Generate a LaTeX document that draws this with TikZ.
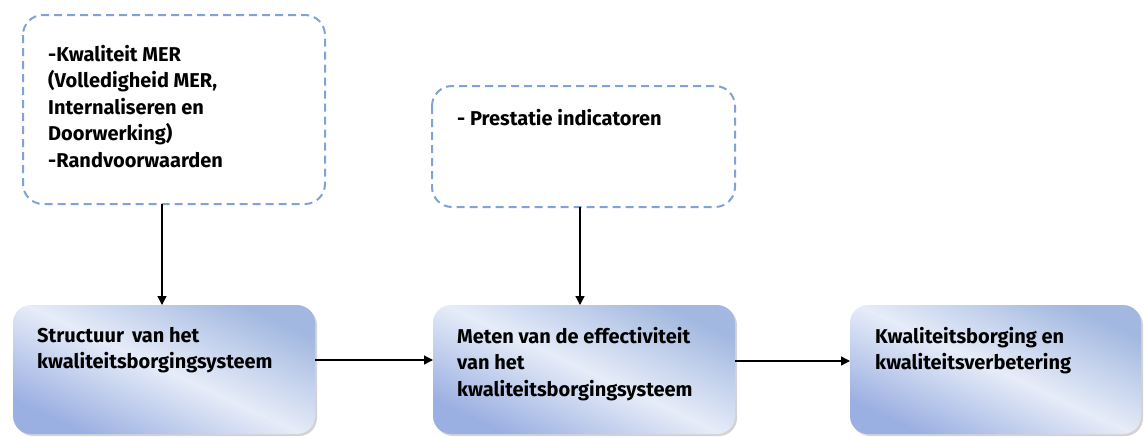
\documentclass[tikz,border=0pt]{standalone}
\usepackage{fontspec}
\setmainfont{Fira Sans}
\usetikzlibrary{arrows.meta,shadows}
\definecolor{dashblue}{HTML}{7FA3D6}
\definecolor{edgeblue}{HTML}{A2B8E0}
\definecolor{midblue}{HTML}{E6ECF8}
\tikzset{
  dashbox/.style={draw=dashblue, line width=2pt, dash pattern=on 8pt off 5pt, rounded corners=20pt},
  solidbox/.style={rounded corners=18pt, top color=edgeblue, bottom color=edgeblue!95!blue, middle color=midblue, shading angle=-25,
     drop shadow={shadow xshift=2pt, shadow yshift=-2pt, opacity=0.35, fill=gray}},
  txt/.style={anchor=north west, align=left, font=\fontsize{20}{26.5}\selectfont\bfseries, inner sep=0pt},
  arr/.style={-{Triangle[length=9pt,width=9pt]}, line width=1.3pt, black}
}
\begin{document}
\begin{tikzpicture}[x=1pt,y=-1pt]
\useasboundingbox (0,0) rectangle (1146,437);
% dashed boxes
\draw[dashbox] (23,15) rectangle (325,204);
\coordinate (t1b) at (162,204);
\draw[dashbox] (432,86) rectangle (735,207);
\coordinate (t2b) at (580,207);
\node[txt] (t1) at (48,45) {-Kwaliteit MER\\(Volledigheid MER,\\Internaliseren en\\Doorwerking)\\-Randvoorwaarden};
\node[txt] (t2) at (457,109) {- Prestatie indicatoren};
% solid boxes
\path[solidbox] (13,305) rectangle (315,434);
\path[solidbox] (433,305) rectangle (735,434);
\path[solidbox] (850,305) rectangle (1141,434);
\coordinate (b1t) at (162,305);
\coordinate (b2t) at (580,305);
\coordinate (b1r) at (315,360);
\coordinate (b2l) at (433,360);
\coordinate (b2r) at (735,361);
\coordinate (b3l) at (850,361);
\node[txt] (s1) at (37,327) {Structuur\, van het\\kwaliteitsborgingsysteem};
\node[txt] (s2) at (457,327) {Meten van de effectiviteit\\van het\\kwaliteitsborgingsysteem};
\node[txt] (s3) at (875,327) {Kwaliteitsborging en\\kwaliteitsverbetering};
% arrows
\draw[arr] (t1b) -- (b1t);
\draw[arr] (t2b) -- (b2t);
\draw[arr] (b1r) -- (b2l);
\draw[arr] (b2r) -- (b3l);
\end{tikzpicture}
\end{document}
